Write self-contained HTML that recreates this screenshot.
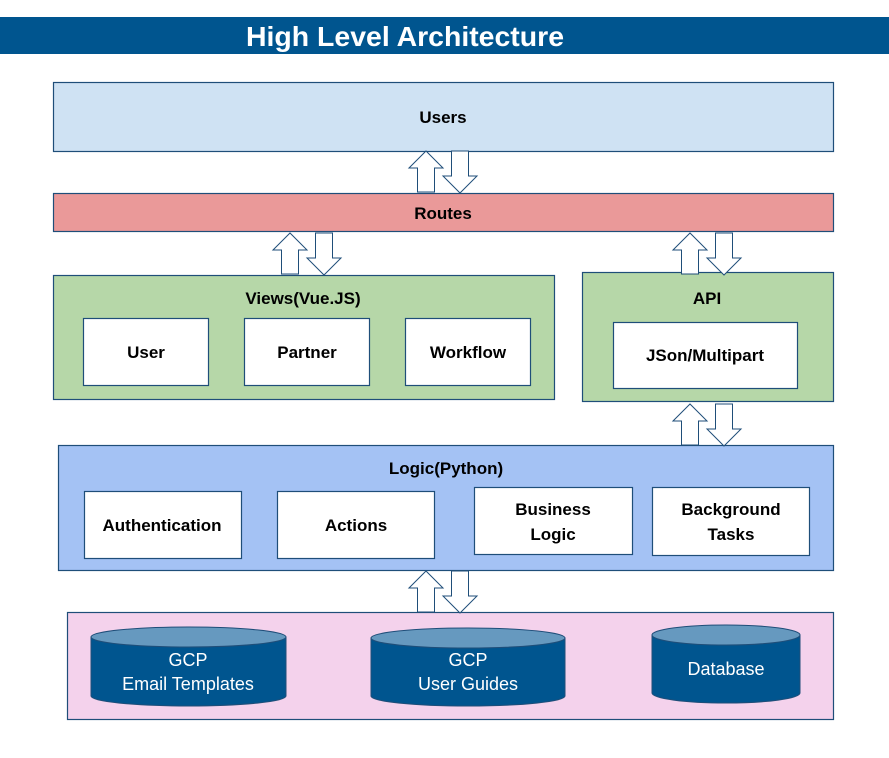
<!DOCTYPE html>
<html><head><style>
body{margin:0;background:#fff;}
svg text{font-family:"Liberation Sans",sans-serif;}
</style></head><body>
<svg width="889" height="753" xmlns="http://www.w3.org/2000/svg">
<defs>
<g id="up"><path d="M0,17 L17,0 L34,17 L25.5,17 L25.5,41 L8.5,41 L8.5,17 Z" fill="#fff" stroke="#1F4E79" stroke-width="1"/></g>
<g id="dn"><path d="M8.5,0 L25.5,0 L25.5,25 L34,25 L17,42 L0,25 L8.5,25 Z" fill="#fff" stroke="#1F4E79" stroke-width="1"/></g>
</defs>
<rect x="0" y="17" width="889" height="37" fill="#00558F"/>
<text x="405" y="46" fill="#fff" font-size="28" font-weight="bold" text-anchor="middle" textLength="318" lengthAdjust="spacingAndGlyphs">High Level Architecture</text>

<g stroke="#1F4E79" stroke-width="1.2">
<rect x="53.5" y="82.5" width="780" height="69" fill="#CFE2F3"/>
<rect x="53.5" y="193.5" width="780" height="38" fill="#EA9999"/>
<rect x="53.5" y="275.5" width="501" height="124" fill="#B6D7A8"/>
<rect x="582.5" y="272.5" width="251" height="129" fill="#B6D7A8"/>
<rect x="58.5" y="445.5" width="775" height="125" fill="#A4C2F4"/>
<rect x="67.5" y="612.5" width="766" height="107" fill="#F4D2EC"/>
<rect x="83.5" y="318.5" width="125" height="67" fill="#fff"/>
<rect x="244.5" y="318.5" width="125" height="67" fill="#fff"/>
<rect x="405.5" y="318.5" width="125" height="67" fill="#fff"/>
<rect x="613.5" y="322.5" width="184" height="66" fill="#fff"/>
<rect x="84.5" y="491.5" width="157" height="67" fill="#fff"/>
<rect x="277.5" y="491.5" width="157" height="67" fill="#fff"/>
<rect x="474.5" y="487.5" width="158" height="67" fill="#fff"/>
<rect x="652.5" y="487.5" width="157" height="68" fill="#fff"/>
</g>

<g font-size="17" font-weight="bold" fill="#000" text-anchor="middle">
<text x="443" y="123">Users</text>
<text x="443" y="219">Routes</text>
<text x="303" y="304">Views(Vue.JS)</text>
<text x="707" y="304">API</text>
<text x="146" y="358">User</text>
<text x="307" y="358">Partner</text>
<text x="468" y="358">Workflow</text>
<text x="705" y="361">JSon/Multipart</text>
<text x="446" y="474">Logic(Python)</text>
<text x="162" y="531">Authentication</text>
<text x="356" y="531">Actions</text>
<text x="553" y="515">Business</text>
<text x="553" y="540">Logic</text>
<text x="731" y="515">Background</text>
<text x="731" y="540">Tasks</text>
</g>

<use href="#up" x="409" y="151"/><use href="#dn" x="443" y="151"/>
<use href="#up" x="273" y="233"/><use href="#dn" x="307" y="233"/>
<use href="#up" x="673" y="233"/><use href="#dn" x="707" y="233"/>
<use href="#up" x="673" y="404"/><use href="#dn" x="707" y="404"/>
<use href="#up" x="409" y="571"/><use href="#dn" x="443" y="571"/>

<g stroke="#1F4E79" stroke-width="1">
<path d="M91,637 L91,696 A97.5,10 0 0 0 286,696 L286,637 Z" fill="#00558F"/>
<ellipse cx="188.5" cy="637" rx="97.5" ry="10" fill="#6699BF"/>
<path d="M371,638 L371,696 A97,10 0 0 0 565,696 L565,638 Z" fill="#00558F"/>
<ellipse cx="468" cy="638" rx="97" ry="10" fill="#6699BF"/>
<path d="M652,635 L652,693 A74,10 0 0 0 800,693 L800,635 Z" fill="#00558F"/>
<ellipse cx="726" cy="635" rx="74" ry="10" fill="#6699BF"/>
</g>
<g font-size="18" fill="#fff" text-anchor="middle">
<text x="188" y="666">GCP</text>
<text x="188" y="690">Email Templates</text>
<text x="468" y="666">GCP</text>
<text x="468" y="690">User Guides</text>
<text x="726" y="675">Database</text>
</g>
</svg>
</body></html>
